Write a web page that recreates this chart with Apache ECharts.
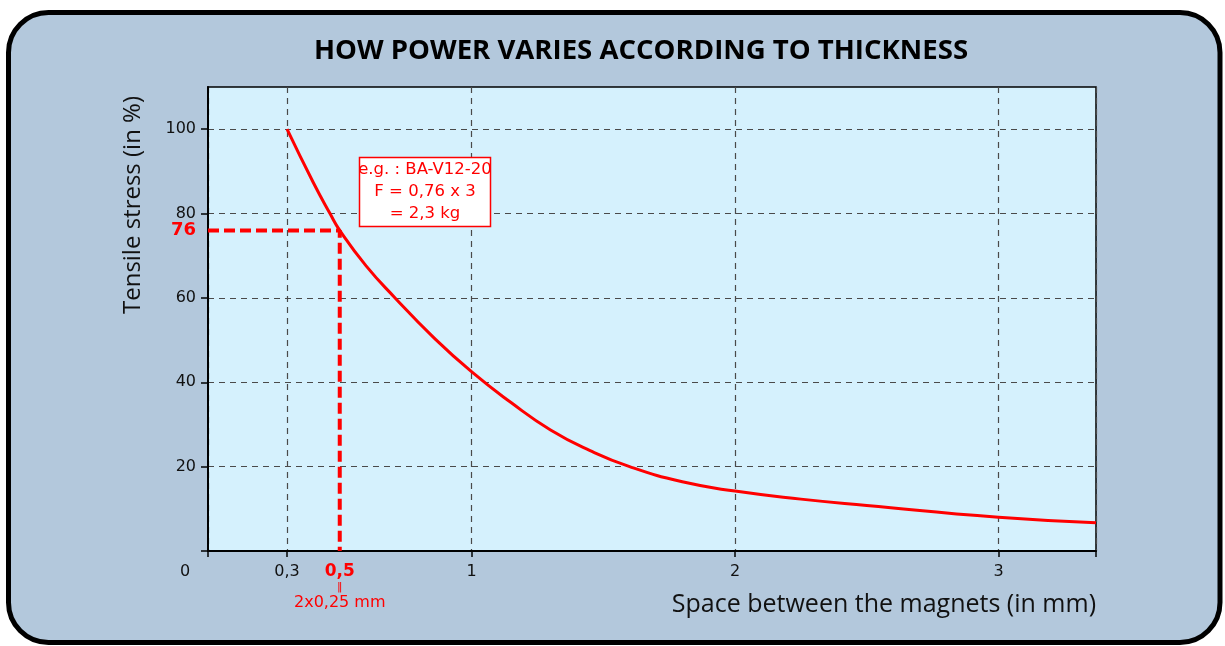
<!DOCTYPE html>
<html>
<head>
<meta charset="utf-8">
<script src="https://cdn.jsdelivr.net/npm/echarts@6/dist/echarts.min.js"></script>
<style>
html, body { margin: 0; padding: 0; background: #ffffff; }
#chart { width: 1225px; height: 646px; }
</style>
</head>
<body>
<div id="chart"></div>
<script>
// Holding force (in % of contact force) versus the gap between two magnets
const gapMm = [0.3, 0.4, 0.463, 0.5, 0.6, 0.71, 0.85, 1.0, 1.15, 1.3, 1.45, 1.6, 1.8, 2.0, 2.25, 2.5, 3.0, 3.37];
const stressPct = [100, 87.3, 80, 76, 67.6, 60, 51, 42.5, 35.2, 28.7, 23.8, 20, 16.4, 14.2, 12.3, 10.8, 8.0, 6.7];

// Worked example: 2 x 0.25 mm gap
const exampleGap = 0.5;
const exampleStress = 76;

// Axis ticks and labels
const xMax = 3.37;
const yMax = 110;
const xTickValues = [0, 0.3, 1, 2, 3, 3.37];
const xLabelValues = [0, 0.3, 0.5, 1, 2, 3];
const yTickValues = [0, 20, 40, 60, 80, 100];
const yLabelValues = [20, 40, 60, 76, 80, 100];

const titleText = 'HOW POWER VARIES ACCORDING TO THICKNESS';
const xName = 'Space between the magnets (in mm)';
const yName = 'Tensile stress (in %)';
const noteLines = ['e.g. : BA-V12-20', 'F = 0,76 x 3', '= 2,3 kg'];
const gapNote = '2x0,25 mm';

const RED = '#ff0000';
const TICK_FONT = 'DejaVu Sans';
const fmt = v => String(v).replace('.', ',');

const tickText = { color: '#111', fontFamily: TICK_FONT, fontSize: 16 };

const chart = echarts.init(document.getElementById('chart'), null, { renderer: 'canvas' });

const curveData = gapMm.map((x, i) => [x, stressPct[i]]);
const guideData = [[0, exampleStress], [exampleGap, exampleStress], [exampleGap, 0]];

chart.setOption({
  backgroundColor: '#ffffff',
  animation: false,
  grid: {
    left: 208, top: 87, right: 129, bottom: 95,
    show: true,
    backgroundColor: '#d5f1fd',
    borderColor: '#000000',
    borderWidth: 1.5
  },
  xAxis: {
    type: 'value',
    min: 0,
    max: xMax,
    axisLine: { show: true, onZero: false, lineStyle: { color: '#000', width: 2 } },
    axisTick: { show: true, length: 6, customValues: xTickValues, lineStyle: { color: '#000', width: 1.5 } },
    splitLine: { show: true, lineStyle: { color: '#4a4a4a', width: 1.2, type: [6, 5] } },
    axisLabel: {
      customValues: xLabelValues,
      margin: 12,
      color: '#111',
      fontFamily: TICK_FONT,
      fontSize: 16,
      formatter: v => {
        if (v === 0) return '{zero|0}';
        if (v === exampleGap) return '{hi|' + fmt(v) + '}\n{eq|‖}\n{note|' + gapNote + '}';
        return '{n|' + fmt(v) + '}';
      },
      rich: {
        n: Object.assign({ lineHeight: 18 }, tickText),
        zero: Object.assign({ padding: [0, 46, 0, 0], lineHeight: 18 }, tickText),
        hi: { color: RED, fontWeight: 'bold', fontFamily: TICK_FONT, fontSize: 17, lineHeight: 18 },
        eq: { color: RED, fontFamily: TICK_FONT, fontSize: 11, lineHeight: 12 },
        note: { color: RED, fontFamily: TICK_FONT, fontSize: 16, lineHeight: 20 }
      }
    }
  },
  yAxis: {
    type: 'value',
    min: 0,
    max: yMax,
    axisLine: { show: true, onZero: false, lineStyle: { color: '#000', width: 2 } },
    axisTick: { show: true, length: 7, customValues: yTickValues, lineStyle: { color: '#000', width: 1.5 } },
    splitLine: { show: true, lineStyle: { color: '#4a4a4a', width: 1.2, type: [6, 5] } },
    axisLabel: {
      customValues: yLabelValues,
      margin: 12,
      color: '#111',
      fontFamily: TICK_FONT,
      fontSize: 16,
      formatter: v => (v === exampleStress ? '{hi|' + v + '}' : '{n|' + v + '}'),
      rich: {
        n: tickText,
        hi: { color: RED, fontWeight: 'bold', fontFamily: TICK_FONT, fontSize: 18 }
      }
    }
  },
  series: [
    {
      name: 'example',
      type: 'line',
      data: guideData,
      symbol: 'none',
      silent: true,
      z: 3,
      lineStyle: { color: RED, width: 4, type: [11, 5] }
    },
    {
      name: 'force',
      type: 'line',
      data: curveData,
      symbol: 'none',
      smooth: 0.5,
      z: 4,
      lineStyle: { color: RED, width: 3 }
    }
  ],
  graphic: [
    {
      type: 'rect',
      z: -10,
      shape: { x: 8.5, y: 12.5, width: 1211.5, height: 630, r: 40 },
      style: { fill: '#b3c8dc', stroke: '#000', lineWidth: 5 }
    },
    {
      type: 'text',
      x: 641, y: 51,
      scaleX: 1.04,
      style: {
        text: titleText,
        fontFamily: 'Open Sans',
        fontWeight: 'bold',
        fontSize: 26.5,
        fill: '#000',
        align: 'center',
        verticalAlign: 'middle'
      }
    },
    {
      type: 'text',
      x: 133, y: 205,
      rotation: Math.PI / 2,
      style: {
        text: yName,
        fontFamily: 'Open Sans',
        fontSize: 24,
        fill: '#111',
        align: 'center',
        verticalAlign: 'middle'
      }
    },
    {
      type: 'text',
      x: 1096, y: 605,
      style: {
        text: xName,
        fontFamily: 'Open Sans',
        fontSize: 25,
        fill: '#111',
        align: 'right',
        verticalAlign: 'middle'
      }
    },
    {
      type: 'rect',
      z: 10,
      shape: { x: 359.5, y: 157.5, width: 131, height: 69 },
      style: { fill: '#ffffff', stroke: RED, lineWidth: 1.5 }
    },
    {
      type: 'text',
      z: 11,
      x: 425, y: 192,
      style: {
        text: noteLines.join('\n'),
        fontFamily: TICK_FONT,
        fontSize: 16.5,
        lineHeight: 22,
        fill: RED,
        align: 'center',
        verticalAlign: 'middle'
      }
    }
  ]
});
</script>
</body>
</html>
